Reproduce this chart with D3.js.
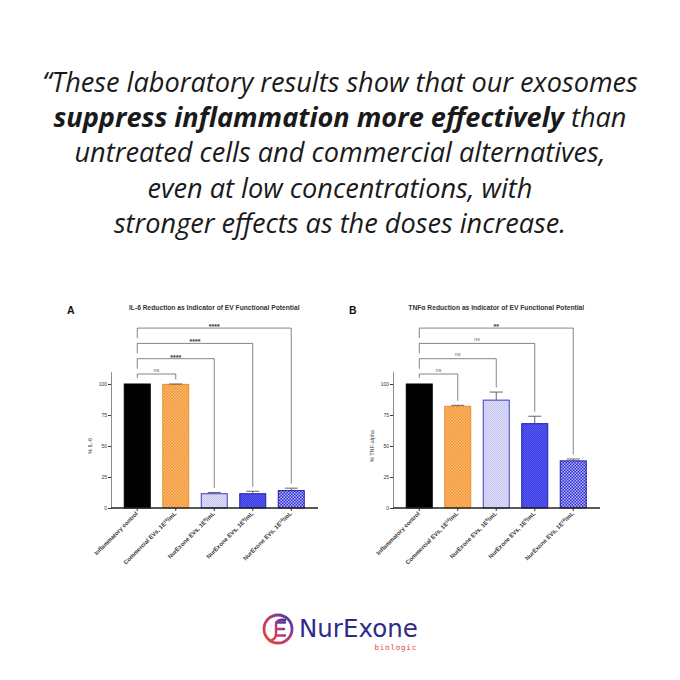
<!DOCTYPE html>
<html>
<head>
<meta charset="utf-8">
<script src="https://cdn.jsdelivr.net/npm/d3@7"></script>
<style>
  body { margin: 0; background: #fff; }
  svg { display: block; }
</style>
</head>
<body>
<svg width="680" height="680"></svg>
<script>
// categories shared by both panels (exponent drawn as superscript)
const categories = ["Inflammatory control", "Commercial EVs, 1E", "NurExone EVs, 1E", "NurExone EVs, 1E", "NurExone EVs, 1E"];
const catExponents = ["", "10", "8", "9", "10"];

const il6Values = [100, 99.7, 11.5, 11.5, 14];
const il6Errors = [0, 0.3, 1, 2, 2];
const il6Signif = ["ns", "****", "****", "****"];

const tnfValues = [100, 82, 87, 68, 38];
const tnfErrors = [0, 0.8, 6.5, 6, 1.5];
const tnfSignif = ["ns", "ns", "ns", "**"];

const yTicks = [0, 25, 50, 75, 100];

const quoteLines = [
    [["\u201CThese laboratory results show that our exosomes", false]],
    [["suppress inflammation more effectively", true], [" than", false]],
    [["untreated cells and commercial alternatives,", false]],
    [["even at low concentrations, with", false]],
    [["stronger effects as the doses increase.", false]]
];

const svg = d3.select("svg");
const defs = svg.append("defs");

// bar fill patterns
function checker(id, size, bg, fg) {
    var p = defs.append("pattern")
        .attr("id", id)
        .attr("patternUnits", "userSpaceOnUse")
        .attr("width", size)
        .attr("height", size);
    p.append("rect").attr("width", size).attr("height", size).attr("fill", bg);
    p.append("rect").attr("width", size / 2).attr("height", size / 2).attr("fill", fg);
    p.append("rect").attr("x", size / 2).attr("y", size / 2).attr("width", size / 2).attr("height", size / 2).attr("fill", fg);
}
checker("patOrange", 3, "#f39330", "#f9bd78");
checker("patLav", 2, "#dcdcf8", "#c8c8f0");
checker("patBlue", 2, "#3a3ae6", "#5b5bee");
checker("patChk", 3, "#2b2bd8", "#b9b9f4");

const barFills = ["#000", "url(#patOrange)", "url(#patLav)", "url(#patBlue)", "url(#patChk)"];
const barStrokes = ["#000", "#ee8f28", "#3c3cc6", "#1c1ca6", "#1c1ca6"];

// ---- quote ----
var quote = svg.append("g")
    .attr("font-family", "'Open Sans', sans-serif")
    .attr("font-style", "italic")
    .attr("fill", "#1a1a1a");

var qText = quote.selectAll("text")
    .data(quoteLines)
    .enter()
    .append("text")
    .attr("x", 340)
    .attr("y", (d, i) => 92 + i * 35.2)
    .attr("text-anchor", "middle")
    .attr("font-size", 23);

qText.selectAll("tspan")
    .data(d => d)
    .enter()
    .append("tspan")
    .attr("font-weight", d => d[1] ? 700 : 400)
    .text(d => d[0]);

// fit the first line to its width in the picture
var w0 = qText.node().getComputedTextLength();
qText.attr("font-size", 23 * 596 / w0);

// ---- charts ----
function drawChart(ox, letter, title, yLabel, values, errors, signif) {
    var g = svg.append("g").attr("font-family", "'Liberation Sans', Arial, sans-serif");

    var y = d3.scaleLinear()
        .domain([0, 110])
        .range([508, 508 - 1.24 * 110]);

    var x = d3.scaleBand()
        .domain(d3.range(categories.length))
        .range([ox + 7, ox + 7 + 192.5])
        .paddingInner(0.325)
        .paddingOuter(0.1625);

    var cx = i => x(i) + x.bandwidth() / 2;

    // y axis
    var yAxis = g.append("g")
        .attr("transform", `translate(${ox},0)`)
        .call(d3.axisLeft(y).tickValues(yTicks).tickSize(3).tickSizeOuter(0));
    yAxis.select(".domain").attr("stroke", "#8a8a8a").attr("stroke-width", 1);
    yAxis.selectAll(".tick line").attr("stroke", "#222").attr("stroke-width", 0.9);
    yAxis.selectAll(".tick text")
        .attr("font-size", 5)
        .attr("font-family", "'Liberation Sans', Arial, sans-serif")
        .attr("fill", "#333")
        .attr("x", -4);

    g.append("text")
        .attr("transform", `translate(${ox - 19},446) rotate(-90)`)
        .attr("text-anchor", "middle")
        .attr("font-size", 5.5)
        .attr("fill", "#444")
        .text(yLabel);

    // bars
    g.selectAll(".bar")
        .data(values)
        .enter()
        .append("rect")
        .attr("class", "bar")
        .attr("x", (d, i) => x(i))
        .attr("y", d => y(d))
        .attr("width", x.bandwidth())
        .attr("height", d => y(0) - y(d))
        .attr("fill", (d, i) => barFills[i])
        .attr("stroke", (d, i) => barStrokes[i])
        .attr("stroke-width", 1);

    // error bars
    var err = g.selectAll(".err")
        .data(values.map((v, i) => ({ v: v, e: errors[i], i: i })).filter(d => d.e > 0))
        .enter()
        .append("g")
        .attr("stroke", "#555")
        .attr("stroke-width", 0.9);
    err.append("line")
        .attr("x1", d => cx(d.i)).attr("x2", d => cx(d.i))
        .attr("y1", d => y(d.v)).attr("y2", d => y(d.v + d.e));
    err.append("line")
        .attr("x1", d => cx(d.i) - 6.5).attr("x2", d => cx(d.i) + 6.5)
        .attr("y1", d => y(d.v + d.e)).attr("y2", d => y(d.v + d.e));

    // x axis
    g.append("line")
        .attr("x1", ox).attr("x2", ox + 207)
        .attr("y1", y(0)).attr("y2", y(0))
        .attr("stroke", "#222")
        .attr("stroke-width", 1.3);
    g.selectAll(".xtick")
        .data(categories)
        .enter()
        .append("line")
        .attr("x1", (d, i) => cx(i)).attr("x2", (d, i) => cx(i))
        .attr("y1", y(0)).attr("y2", y(0) + 3)
        .attr("stroke", "#222")
        .attr("stroke-width", 0.9);

    var labels = g.selectAll(".xlab")
        .data(categories)
        .enter()
        .append("text")
        .attr("transform", (d, i) => `translate(${cx(i) + 1},${y(0) + 6}) rotate(-45)`)
        .attr("text-anchor", "end")
        .attr("font-size", 5.9)
        .attr("font-weight", 700)
        .attr("fill", "#333");
    labels.append("tspan").text(d => d);
    labels.each(function (d, i) {
        if (!catExponents[i]) return;
        var t = d3.select(this);
        t.append("tspan").attr("dy", -2).attr("font-size", 4).text(catExponents[i]);
        t.append("tspan").attr("dy", 2).text("/mL");
    });

    // significance brackets
    var leftStop = y(values[0] + errors[0]) - 6;
    var br = g.selectAll(".br")
        .data(signif)
        .enter()
        .append("g");
    br.append("path")
        .attr("fill", "none")
        .attr("stroke", "#666")
        .attr("stroke-width", 0.8)
        .attr("d", (d, i) => {
            var top = 374 - i * 15.3;
            var j = i + 1;
            return `M${cx(0)},${Math.min(top + 10, leftStop)}V${top}H${cx(j)}V${y(values[j] + errors[j]) - 4.5}`;
        });
    br.append("text")
        .attr("x", (d, i) => (cx(0) + cx(i + 1)) / 2)
        .attr("y", (d, i) => 374 - i * 15.3 + (d === "ns" ? -2.5 : 1))
        .attr("text-anchor", "middle")
        .attr("font-size", d => d === "ns" ? 5 : 7)
        .attr("font-weight", d => d === "ns" ? 400 : 700)
        .attr("fill", d => d === "ns" ? "#555" : "#333")
        .text(d => d);

    // title + panel letter
    g.append("text")
        .attr("x", (cx(0) + cx(categories.length - 1)) / 2)
        .attr("y", 309.5)
        .attr("text-anchor", "middle")
        .attr("font-size", 6.7)
        .attr("font-weight", 700)
        .attr("fill", "#333")
        .text(title);
    g.append("text")
        .attr("x", ox - 44)
        .attr("y", 314)
        .attr("font-size", 10.5)
        .attr("font-weight", 700)
        .attr("fill", "#111")
        .text(letter);
}

drawChart(111, "A", "IL-6 Reduction as Indicator of EV Functional Potential", "% IL-6", il6Values, il6Errors, il6Signif);
drawChart(393, "B", "TNF\u03B1 Reduction as Indicator of EV Functional Potential", "% TNF-alpha", tnfValues, tnfErrors, tnfSignif);

// ---- logo ----
var grad = defs.append("linearGradient")
    .attr("id", "logoGrad")
    .attr("x1", 0).attr("y1", 1).attr("x2", 1).attr("y2", 0);
grad.append("stop").attr("offset", "0%").attr("stop-color", "#ec4436");
grad.append("stop").attr("offset", "55%").attr("stop-color", "#b23a7a");
grad.append("stop").attr("offset", "100%").attr("stop-color", "#3b3aa6");

var logo = svg.append("g");
logo.append("circle")
    .attr("cx", 278).attr("cy", 629).attr("r", 14)
    .attr("fill", "none")
    .attr("stroke", "url(#logoGrad)")
    .attr("stroke-width", 2.8);
logo.append("path")
    .attr("fill", "none")
    .attr("stroke", "url(#logoGrad)")
    .attr("stroke-width", 2.4)
    .attr("stroke-linecap", "round")
    .attr("d", "M285,620 C279,619 276,621 276,625 L276,634 C276,638 273,640 270,641 M276,622.5 H285 M276,629 H284 M276,635.5 H285");

logo.append("text")
    .attr("x", 299)
    .attr("y", 637)
    .attr("font-family", "'DejaVu Sans', sans-serif")
    .attr("font-size", 24.5)
    .attr("fill", "#2e2b8c")
    .text("NurExone");
logo.append("text")
    .attr("x", 417)
    .attr("y", 650)
    .attr("text-anchor", "end")
    .attr("font-family", "'DejaVu Sans Mono', monospace")
    .attr("font-size", 7.5)
    .attr("letter-spacing", 0.8)
    .attr("fill", "#e0474d")
    .text("biologic");
</script>
</body>
</html>
